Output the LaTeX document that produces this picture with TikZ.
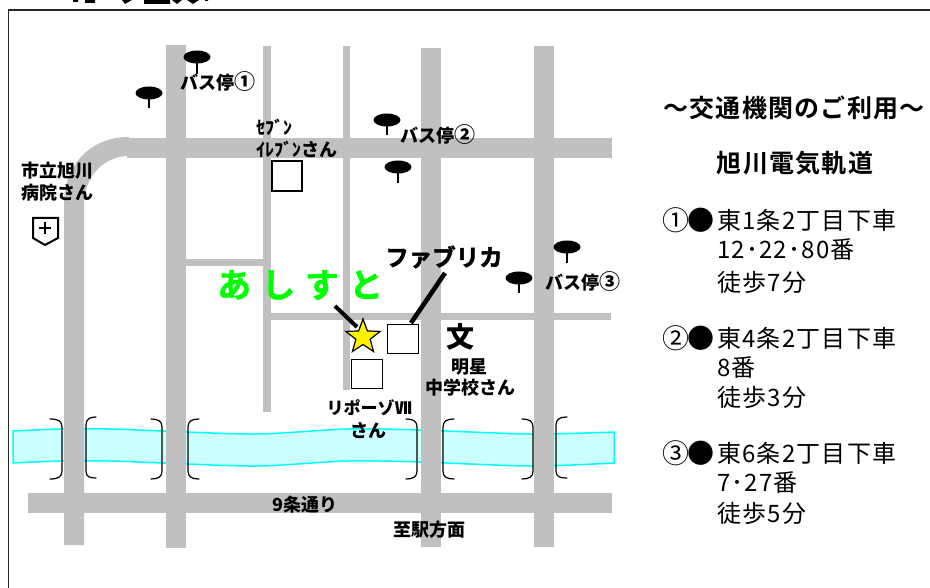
\documentclass[tikz,border=0pt]{standalone}
\usepackage{fontspec}
\usetikzlibrary{shapes.geometric}
\setmainfont{Noto Sans CJK JP}
\newfontfamily\sidefont[LetterSpace=5]{Noto Sans CJK JP}
\newfontfamily\headfont[LetterSpace=5,BoldFont={Noto Sans CJK JP Bold}]{Noto Sans CJK JP}
\newfontfamily\greenfont[LetterSpace=30,FakeBold=1.2]{Noto Sans CJK JP Bold}
\newfontfamily\fabfont[FakeBold=2]{Noto Sans CJK JP Bold}
\definecolor{roadgray}{RGB}{192,192,192}
\definecolor{rivline}{RGB}{0,255,255}
\definecolor{rivfill}{RGB}{204,255,255}
\definecolor{ashigreen}{RGB}{0,255,0}
\tikzset{x=1pt,y=-1pt,
 road/.style={fill=roadgray,draw=none},
 river/.style={draw=rivline,fill=rivfill,line width=1.5pt},
 bracket/.style={draw=black,line width=1.2pt,line cap=round},
 box/.style={draw=black,fill=white,line width=1.8pt,inner sep=0pt},
 lab/.style={font=\bfseries\fontsize{18}{21}\selectfont,inner sep=0pt},
 side/.style={font=\sidefont\fontsize{24}{28}\selectfont,anchor=west,inner sep=0pt},
 sidemark/.style={font=\fontsize{27}{29}\selectfont,anchor=center,inner sep=0pt},
 head/.style={font=\headfont\bfseries\fontsize{25}{28}\selectfont,inner sep=0pt},
 pole/.style={line width=1.4pt,draw=black},
 pointer/.style={draw=black,line width=4pt}}
\newcommand{\busstop}[3]{\fill[black] (#1,#2) ellipse (13.5pt and 6.5pt); \draw[pole] (#1,#2) -- (#1,#3);}
\newcommand{\bigc}[1]{{\fontsize{21}{21}\selectfont #1}}
\begin{document}
\begin{tikzpicture}
\useasboundingbox (0,0) rectangle (930,588);
\fill[white] (0,0) rectangle (930,588);
% cropped title remains
\fill[black] (73,0) rectangle (78,2) (85,0) rectangle (95,3) (122,0) -- (132,0) -- (125,4) -- cycle
 (144,0) rectangle (170,4) (172,0) -- (182,0) -- (177,4) -- cycle (187,0) -- (199,0) -- (193,4) -- cycle (205,0) rectangle (208,1);
% frame
\draw[line width=1.8pt,draw=black!85] (930,10) -- (8.5,10) -- (8.5,588);
% river
\draw[river] plot[smooth,tension=0.5] coordinates {(13,431) (61,429) (110,429) (163,431) (257,434) (347,429) (420,430) (530,434) (614,432)}
 -- plot[smooth,tension=0.5] coordinates {(614,463) (530,466) (420,462) (347,461) (257,466) (163,463) (110,461) (61,461) (13,463)} -- cycle;
% roads
\fill[road] (166,45) rectangle (186,548);
\fill[road] (421,48) rectangle (441,547);
\fill[road] (534,46) rectangle (554,547);
\fill[road] (127,138) rectangle (612,158);
\fill[road] (28,493) rectangle (612,513);
\fill[road] (64,545) -- (64,205) .. controls (64,165) and (90,137) .. (129,137) -- (129,156) .. controls (105,156) and (84,175) .. (84,205) -- (84,545) -- cycle;
\fill[road] (263,46) rectangle (271,412);
\fill[road] (343,46) rectangle (350,390);
\fill[road] (186,259) rectangle (263,266);
\fill[road] (271,313) rectangle (611,320);
% brackets
\draw[bracket] (50,419) .. controls (58,419) and (62,421) .. (62,427) -- (62,471) .. controls (62,477) and (58,479) .. (50,479);
\draw[bracket] (96,417) .. controls (90,417) and (86,419) .. (86,425) -- (86,471) .. controls (86,477) and (90,478) .. (96,478);
\draw[bracket] (151,419) .. controls (158,419) and (162,421) .. (162,427) -- (162,471) .. controls (162,477) and (158,479) .. (151,479);
\draw[bracket] (199,419) .. controls (192,419) and (188,421) .. (188,427) -- (188,471) .. controls (188,477) and (192,479) .. (199,479);
\draw[bracket] (406,419) .. controls (413,419) and (417,421) .. (417,427) -- (417,471) .. controls (417,477) and (413,479) .. (406,479);
\draw[bracket] (454,419) .. controls (447,419) and (443,421) .. (443,427) -- (443,471) .. controls (443,477) and (447,479) .. (454,479);
\draw[bracket] (522,419) .. controls (529,419) and (533,421) .. (533,427) -- (533,471) .. controls (533,477) and (529,479) .. (522,479);
\draw[bracket] (567,417) .. controls (560,417) and (556,419) .. (556,425) -- (556,471) .. controls (556,477) and (560,478) .. (567,478);
% bus stops
\busstop{197}{57}{74}
\busstop{149}{93}{108}
\busstop{387}{120}{135}
\busstop{398}{167}{183}
\busstop{567}{247}{263}
\busstop{519}{278}{293}
% buildings
\node[box,minimum width=30pt,minimum height=30pt] (seven) at (287,176) {};
\node[box,minimum width=31pt,minimum height=29pt] (fabbox) at (403,339) {};
\node[box,minimum width=31pt,minimum height=29pt] (ripbox) at (367,374) {};
\node[star,star points=5,star point ratio=2.4,minimum size=36pt,inner sep=0pt,draw=black,fill=yellow,line width=1.2pt] (goal) at (363,337) {};
% hospital
\draw[line width=2pt,fill=white] (33,218) -- (58,218) -- (58,238) -- (45,245) -- (33,238) -- cycle;
\draw[line width=1.4pt] (39,228) -- (51,228) (45,222) -- (45,234);
% pointers
\coordinate (ashiend) at (335,306);
\coordinate (goalend) at (357,327);
\coordinate (fabend) at (445,273);
\coordinate (fabboxend) at (411,323);
\draw[pointer] (ashiend) -- (goalend);
\draw[pointer,line width=4.6pt] (fabend) -- (fabboxend);
% map labels
\node[lab] (bus1) at (217.5,82) {バス停\bigc{①}};
\node[lab] (bus2) at (438,135) {バス停\bigc{②}};
\node[lab] (bus3) at (583,282) {バス停\bigc{③}};
\node[lab,anchor=west] (sev1) at (256,127) {ｾﾌﾞﾝ};
\node[lab,anchor=west] (sev2) at (256,149) {ｲﾚﾌﾞﾝさん};
\node[lab] (hosp1) at (57,171) {市立旭川};
\node[lab] (hosp2) at (57,193) {病院さん};
\node[inner sep=0pt,anchor=west,text=ashigreen,font=\greenfont\fontsize{34}{38}\selectfont] (ashi) at (217,285) {あしすと};
\node[inner sep=0pt,anchor=west,font=\fabfont\fontsize{23.5}{26}\selectfont] (fab) at (385,257) {ファブリカ};
\node[inner sep=0pt,font=\bfseries\fontsize{28}{30}\selectfont] (school) at (460,337) {文};
\node[lab] (mei1) at (469.5,367) {明星};
\node[lab] (mei2) at (470,388) {中学校さん};
\node[lab,font=\bfseries\fontsize{17}{20}\selectfont] (rip1) at (369,408) {リポーゾⅦ};
\node[lab] (rip2) at (368.5,431) {さん};
\node[lab] (street) at (305,505) {9条通り};
\node[lab] (station) at (429.5,530) {至駅方面};
% side panel
\node[head] (title) at (794,108) {～交通機関のご利用～};
\node[head] (line) at (795,163) {旭川電気軌道};
\node[sidemark] (c1) at (676,220) {①};
\node[sidemark] (e1) at (701,220) {●};
\node[side] (a1) at (717,220) {東1条2丁目下車};
\node[side] (a2) at (717,250) {12･22･80番};
\node[side] (a3) at (717,282) {徒歩7分};
\node[sidemark] (c2) at (676,338) {②};
\node[sidemark] (e2) at (701,338) {●};
\node[side] (b1) at (717,338) {東4条2丁目下車};
\node[side] (b2) at (717,368) {8番};
\node[side] (b3) at (717,397) {徒歩3分};
\node[sidemark] (c3) at (676,453) {③};
\node[sidemark] (e3) at (701,453) {●};
\node[side] (d1) at (717,453) {東6条2丁目下車};
\node[side] (d2) at (717,483) {7･27番};
\node[side] (d3) at (717,513) {徒歩5分};
\end{tikzpicture}
\end{document}
